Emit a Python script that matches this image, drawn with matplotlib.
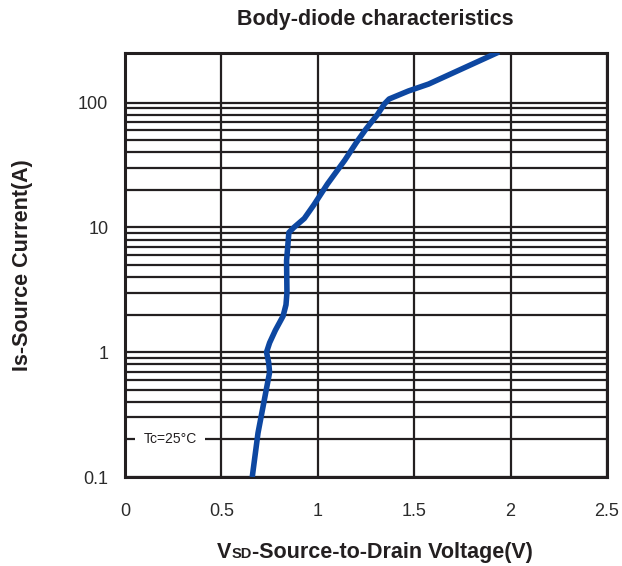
import matplotlib
matplotlib.use("Agg")
import matplotlib.pyplot as plt
from matplotlib.ticker import FixedLocator, NullFormatter

plt.rcParams['font.family'] = ['Liberation Sans', 'DejaVu Sans']

# Data
vsd = [0.66, 0.69, 0.75, 0.745, 0.734, 0.75, 0.78, 0.82, 0.835, 0.84, 0.838, 0.85, 0.876,
       0.93, 0.98, 1.05, 1.14, 1.20, 1.25, 1.31, 1.345, 1.37, 1.47, 1.575, 1.94]
i_s = [0.1, 0.226, 0.69, 0.83, 1.0, 1.19, 1.5, 1.95, 2.4, 3.0, 5.4, 9.1, 10.0,
       11.8, 15.2, 22.3, 34.6, 47.9, 61.5, 80.5, 97.5, 107, 124, 141, 255]

x_ticks = [0, 0.5, 1, 1.5, 2, 2.5]
x_ticklabels = ['0', '0.5', '1', '1.5', '2', '2.5']
y_ticks = [0.1, 1, 10, 100]
y_ticklabels = ['0.1', '1', '10', '100']
y_minor = [m * d for d in (0.1, 1, 10) for m in range(2, 10)]

fig = plt.figure(figsize=(6.22, 5.66), dpi=100)
ax = fig.add_axes([125/622, 1 - 477/566, (607-125)/622, (477-53)/566])

ax.set_yscale('log')
ax.set_xlim(0, 2.5)
ax.set_ylim(0.1, 250)

ax.set_xticks(x_ticks)
ax.set_xticklabels(x_ticklabels)
ax.set_yticks(y_ticks)
ax.set_yticklabels(y_ticklabels)
ax.yaxis.set_minor_locator(FixedLocator(y_minor))
ax.yaxis.set_minor_formatter(NullFormatter())

ax.tick_params(axis='both', which='both', length=0, labelsize=13, colors='#2b2b2b')
ax.tick_params(axis='x', pad=19)
ax.tick_params(axis='y', pad=12)

ax.grid(True, which='both', axis='y', color='#231f20', linewidth=1.6)
ax.grid(True, which='major', axis='x', color='#231f20', linewidth=1.6)
ax.set_axisbelow(True)
for s in ax.spines.values():
    s.set_linewidth(2.2)
    s.set_color('#231f20')

ax.plot(vsd, i_s, color='#0d47a1', linewidth=4.0, solid_capstyle='butt', zorder=5)

ax.text(0.233, 0.2, 'Tc=25°C', fontsize=10, color='#231f20', ha='center', va='center',
        bbox=dict(facecolor='white', edgecolor='none', pad=6), zorder=4)

fig.text(375/622, 1 - 20/566, 'Body-diode characteristics', ha='center', va='center',
         fontsize=15.5, fontweight='bold', color='#231f20')
fig.text(23/622, 1 - 265/566, 'Is-Source Current(A)', ha='center', va='center', rotation=90,
         fontsize=15.5, fontweight='bold', color='#231f20')

# x label: "V" + small "SD" on baseline + rest
pieces = [('V', 15.5), ('SD', 10.5), ('-Source-to-Drain Voltage(V)', 15.5)]
fig.canvas.draw()
renderer = fig.canvas.get_renderer()
tmp = [fig.text(0, 0, t, fontsize=fs, fontweight='bold') for t, fs in pieces]
widths = [t.get_window_extent(renderer).width for t in tmp]
for t in tmp:
    t.remove()
total = sum(widths)
x0 = 375 - total / 2
base_y = 1 - 558/566
for (t, fs), w in zip(pieces, widths):
    fig.text(x0 / 622, base_y, t, fontsize=fs, fontweight='bold', color='#231f20',
             ha='left', va='baseline')
    x0 += w

fig.savefig('out.png', dpi=100)
